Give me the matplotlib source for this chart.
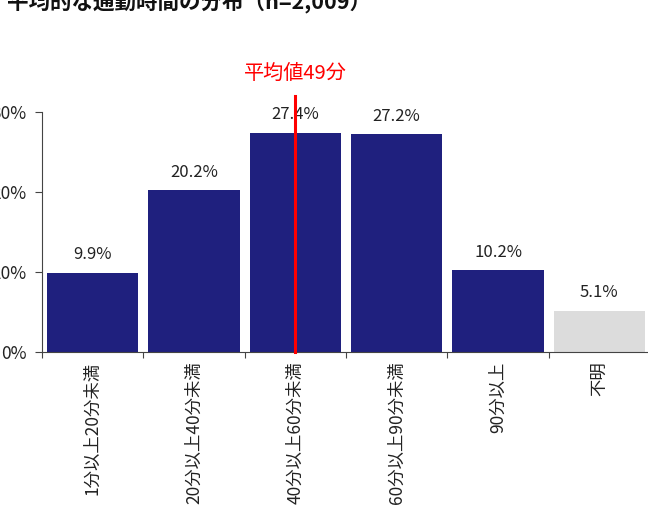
import matplotlib
matplotlib.use("Agg")
import matplotlib.pyplot as plt
import numpy as np

plt.rcParams['font.family'] = ['Noto Sans CJK JP', 'DejaVu Sans']

title = "平均的な通勤時間の分布（n=2,009）"
categories = ["1分以上20分未満", "20分以上40分未満", "40分以上60分未満",
              "60分以上90分未満", "90分以上", "不明"]
shares = [9.9, 20.2, 27.4, 27.2, 10.2, 5.1]
bar_colors = ["#1f207e"] * 5 + ["#dcdcdc"]
y_ticks = [0, 10, 20, 30]
mean_label = "平均値49分"
mean_index = 2  # mean falls in the 40-60 min bucket

fig = plt.figure(figsize=(6.48, 5.07), dpi=100)
ax = fig.add_axes([42 / 648, 155 / 507, 608 / 648, 240 / 507])

x = np.arange(len(categories))
ax.bar(x, shares, width=0.9, color=bar_colors, zorder=2)

for xi, v in zip(x, shares):
    ax.annotate(f"{v:.1f}%", (xi, v), xytext=(0, 7), textcoords="offset points",
                ha="center", va="bottom", fontsize=12, color="#222222")

# mean marker
ax.plot([mean_index, mean_index], [0, 32.0], color="#ff0000", lw=2.2,
        clip_on=False, zorder=3)
ax.text(mean_index, 34.8, mean_label, color="#ff0000", fontsize=14.5,
        ha="center", va="center")

ax.set_xlim(-0.5, len(categories) - 0.5)
ax.set_ylim(0, 30)
ax.set_yticks(y_ticks)
ax.set_yticklabels([f"{t}%" for t in y_ticks], fontsize=12.5, color="#222222")
ax.tick_params(axis="y", length=5, pad=6, color="#444444")

ax.set_xticks(np.arange(len(categories) + 1) - 0.5)
ax.set_xticklabels([])
ax.set_xticks(x, minor=True)
ax.set_xticklabels(categories, minor=True, rotation=90, fontsize=12.5,
                   color="#222222", va="top")
ax.tick_params(axis="x", which="major", length=4, color="#444444")
ax.tick_params(axis="x", which="minor", length=0, pad=7)

for s in ["top", "right"]:
    ax.spines[s].set_visible(False)
for s in ["left", "bottom"]:
    ax.spines[s].set_color("#444444")

fig.text(7 / 648, 1 - 2 / 507, title, fontsize=15.5, fontweight="bold",
         ha="left", va="center", color="#111111")

fig.savefig("out.png", dpi=100)
